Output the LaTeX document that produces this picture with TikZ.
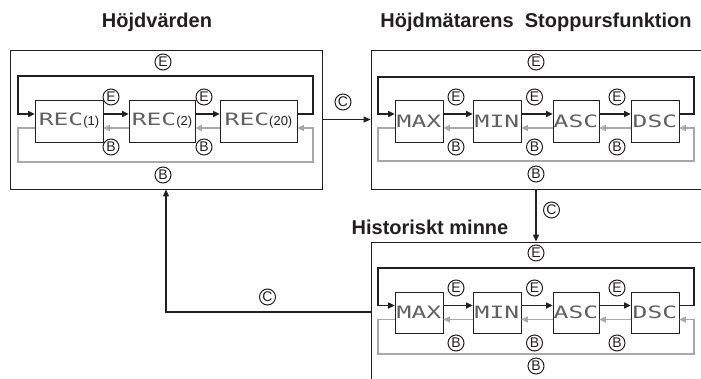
\documentclass[tikz,border=0pt]{standalone}
\usepackage{fontspec}
\setmainfont{Liberation Sans}
\newfontfamily\lcdfont[FakeStretch=1.45]{DejaVu Sans Mono}
\usetikzlibrary{arrows.meta}
\definecolor{ink}{HTML}{231F20}
\definecolor{lg}{HTML}{A8A8A8}
\definecolor{lcdc}{HTML}{606060}
\tikzset{
  frame/.style={draw=ink, line width=0.8pt, inner sep=0pt},
  box/.style={draw=ink, line width=0.7pt, fill=white, inner sep=0pt, minimum height=42pt, font=\lcdfont\fontsize{17}{17}\selectfont, text=lcdc},
  circ/.style={draw=ink, circle, line width=1pt, inner sep=0pt, minimum size=16pt, font=\fontsize{14}{14}\selectfont, text=ink},
  ttl/.style={font=\fontsize{20}{24}\selectfont\bfseries, text=ink},
  blk/.style={draw=ink, line width=1.4pt, -{Triangle[length=6.5pt,width=6pt]}},
  gry/.style={draw=lg, line width=1.4pt, -{Triangle[length=6.5pt,width=6pt]}},
  conn/.style={draw=ink, line width=1.1pt, -{Triangle[length=7pt,width=6pt]}},
}
\newcommand{\paren}[1]{{\normalfont\fontsize{13}{13}\selectfont\color{ink}#1}}
\begin{document}
\begin{tikzpicture}[x=1pt,y=-1pt]
\useasboundingbox (0,0) rectangle (701,378);
\clip (0,0) rectangle (701,378);
% titles
\node[ttl] (t1) at (157,22) {Höjdvärden};
\node[ttl] (t2) at (536,22) {Höjdmätarens\ \ Stoppursfunktion};
\node[ttl] (t3) at (430,227) {Historiskt minne};
% frames
\node[frame, minimum width=312pt, minimum height=139pt] (f1) at (166,119.5) {};
\node[frame, minimum width=349pt, minimum height=139pt] (f2) at (545.5,119.5) {};
\node[frame, minimum width=349pt, minimum height=180pt] (f3) at (545.5,332) {};
% ---------- frame 1 ----------
\node[box, minimum width=68pt] (r1) at (69,121) {REC\paren{(1)}};
\node[box, minimum width=66pt] (r2) at (162,121) {REC\paren{(2)}};
\node[box, minimum width=77pt] (r3) at (258.5,121) {REC\paren{(20)}};
\coordinate (a1) at (313,76);
\coordinate (b1) at (18,162);
\draw[blk] ([yshift=7pt]r1.east) -- ([yshift=7pt]r2.west);
\draw[blk] ([yshift=7pt]r2.east) -- ([yshift=7pt]r3.west);
\draw[gry] ([yshift=-7pt]r2.west) -- ([yshift=-7pt]r1.east);
\draw[gry] ([yshift=-7pt]r3.west) -- ([yshift=-7pt]r2.east);
\draw[blk] ([yshift=7pt]r3.east) -| (a1) -| ([yshift=7pt]r1.west -| b1) -- ([yshift=7pt]r1.west);
\draw[gry] ([yshift=-7pt]r1.west) -| (b1) -| ([yshift=-7pt]r3.east -| a1) -- ([yshift=-7pt]r3.east);
\node[circ] (e10) at (163,62) {E};
\node[circ] (e11) at (111,97) {E};
\node[circ] (e12) at (204,97) {E};
\node[circ] (b11) at (111,147) {B};
\node[circ] (b12) at (204,147) {B};
\node[circ] (b10) at (163,175) {B};
% ---------- frame 2 ----------
\node[box, minimum width=48pt] (m1) at (419,121) {MAX};
\node[box, minimum width=48pt] (m2) at (497,121) {MIN};
\node[box, minimum width=46pt] (m3) at (576,121) {ASC};
\node[box, minimum width=48pt] (m4) at (655,121) {DSC};
\coordinate (a2) at (694,77);
\coordinate (b2) at (378,161);
\draw[blk] ([yshift=7pt]m1.east) -- ([yshift=7pt]m2.west);
\draw[blk] ([yshift=7pt]m2.east) -- ([yshift=7pt]m3.west);
\draw[blk] ([yshift=7pt]m3.east) -- ([yshift=7pt]m4.west);
\draw[gry] ([yshift=-7pt]m2.west) -- ([yshift=-7pt]m1.east);
\draw[gry] ([yshift=-7pt]m3.west) -- ([yshift=-7pt]m2.east);
\draw[gry] ([yshift=-7pt]m4.west) -- ([yshift=-7pt]m3.east);
\draw[blk] ([yshift=7pt]m4.east) -| (a2) -| ([yshift=7pt]m1.west -| b2) -- ([yshift=7pt]m1.west);
\draw[gry] ([yshift=-7pt]m1.west) -| (b2) -| ([yshift=-7pt]m4.east -| a2) -- ([yshift=-7pt]m4.east);
\node[circ] (e20) at (536,62) {E};
\node[circ] (e21) at (456,97) {E};
\node[circ] (e22) at (534.5,97) {E};
\node[circ] (e23) at (617,97) {E};
\node[circ] (b21) at (456,147) {B};
\node[circ] (b22) at (534.5,147) {B};
\node[circ] (b23) at (617,147) {B};
\node[circ] (b20) at (536,174) {B};
% ---------- frame 3 ----------
\node[box, minimum width=48pt, minimum height=41pt] (h1) at (419,312.5) {MAX};
\node[box, minimum width=48pt, minimum height=41pt] (h2) at (497,312.5) {MIN};
\node[box, minimum width=46pt, minimum height=41pt] (h3) at (576,312.5) {ASC};
\node[box, minimum width=48pt, minimum height=41pt] (h4) at (655,312.5) {DSC};
\coordinate (a3) at (694,268);
\coordinate (b3) at (378,354);
\draw[blk] ([yshift=7pt]h1.east) -- ([yshift=7pt]h2.west);
\draw[blk] ([yshift=7pt]h2.east) -- ([yshift=7pt]h3.west);
\draw[blk] ([yshift=7pt]h3.east) -- ([yshift=7pt]h4.west);
\draw[gry] ([yshift=-7pt]h2.west) -- ([yshift=-7pt]h1.east);
\draw[gry] ([yshift=-7pt]h3.west) -- ([yshift=-7pt]h2.east);
\draw[gry] ([yshift=-7pt]h4.west) -- ([yshift=-7pt]h3.east);
\draw[blk] ([yshift=7pt]h4.east) -| (a3) -| ([yshift=7pt]h1.west -| b3) -- ([yshift=7pt]h1.west);
\draw[gry] ([yshift=-7pt]h1.west) -| (b3) -| ([yshift=-7pt]h4.east -| a3) -- ([yshift=-7pt]h4.east);
\node[circ] (e30) at (536,253) {E};
\node[circ] (e31) at (456,288) {E};
\node[circ] (e32) at (534.5,288) {E};
\node[circ] (e33) at (617,288) {E};
\node[circ] (b31) at (456,343) {B};
\node[circ] (b32) at (534.5,343) {B};
\node[circ] (b33) at (617,343) {B};
\node[circ] (b30) at (536,366) {B};
% ---------- C connectors ----------
\draw[conn] (f1.east) -- (f2.west);
\node[circ] (c1) at (343,102) {C};
\draw[conn] (e20 |- f2.south) -- (e20 |- f3.north);
\node[circ] (c2) at (551.5,210) {C};
\coordinate (cR) at (166,312);
\draw[conn] (f3.west |- cR) -| (cR |- f1.south);
\node[circ] (c3) at (267.5,297) {C};
\end{tikzpicture}
\end{document}
